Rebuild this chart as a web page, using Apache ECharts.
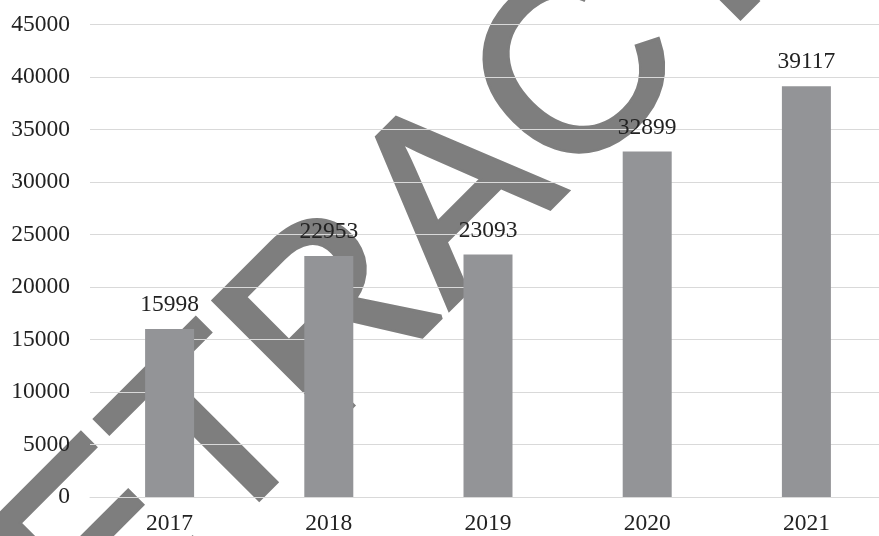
<!DOCTYPE html>
<html>
<head>
<meta charset="utf-8">
<script src="https://cdn.jsdelivr.net/npm/echarts@6/dist/echarts.min.js"></script>
<style>html,body{margin:0;padding:0;background:#fff;overflow:hidden;width:879px;height:536px;}#c{width:886px;height:536px;}</style>
</head>
<body>
<div id="c"></div>
<script>
var categories = ['2017', '2018', '2019', '2020', '2021'];
var values = [15998, 22953, 23093, 32899, 39117];
var yTicks = [0, 5000, 10000, 15000, 20000, 25000, 30000, 35000, 40000, 45000];
var watermarkText = 'RETRACTED';

var chart = echarts.init(document.getElementById('c'), null, {renderer: 'canvas'});
var serif = '"Liberation Serif", "Times New Roman", serif';
chart.setOption({
  animation: false,
  backgroundColor: '#ffffff',
  grid: {left: 90, top: 24.5, right: 0, bottom: 39, containLabel: false},
  xAxis: {
    type: 'category',
    data: categories,
    axisLine: {show: true, lineStyle: {color: '#d9d9d9', width: 1}},
    axisTick: {show: false},
    axisLabel: {color: '#222', fontFamily: serif, fontSize: 23.5, margin: 15}
  },
  yAxis: {
    type: 'value',
    min: yTicks[0],
    max: yTicks[yTicks.length - 1],
    interval: 5000,
    axisLine: {show: false},
    axisTick: {show: false},
    splitLine: {lineStyle: {color: '#d9d9d9', width: 1}},
    axisLabel: {color: '#222', fontFamily: serif, fontSize: 23.5, margin: 20,
      formatter: function (v) { return String(v); }}
  },
  series: [{
    type: 'bar',
    data: values,
    barWidth: 49,
    itemStyle: {color: '#939497'},
    label: {show: true, position: 'top', distance: 12, color: '#222', fontFamily: serif, fontSize: 23.5}
  }],
  graphic: [{
    type: 'group',
    x: -27,
    y: 795,
    rotation: Math.PI / 4,
    silent: true,
    zlevel: 5,
    z: 100,
    children: [{
      type: 'text',
      x: 0,
      y: -76,
      style: {
        text: watermarkText,
        font: '250px "Liberation Sans", Arial, sans-serif',
        fill: '#7e7e7e',
        stroke: '#7e7e7e',
        lineWidth: 5,
        textAlign: 'left',
        verticalAlign: 'middle'
      }
    }]
  }]
});
var cs = document.querySelectorAll('#c canvas');
if (cs.length > 1) { cs[cs.length - 1].style.opacity = '0.9'; }
</script>
</body>
</html>
